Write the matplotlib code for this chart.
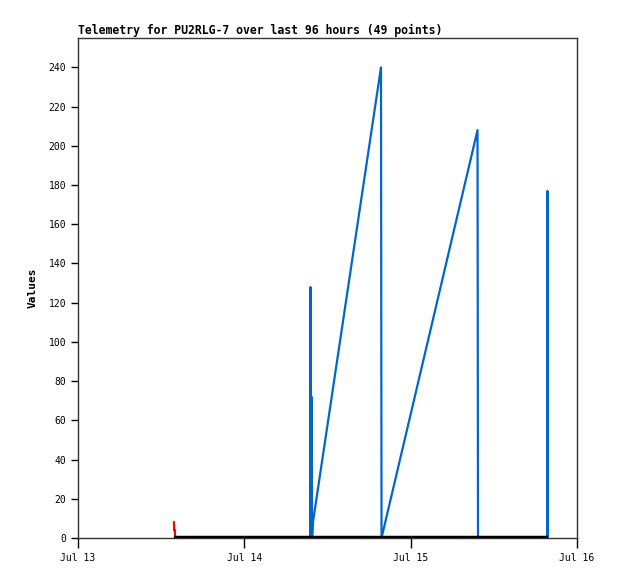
import datetime as dt
import matplotlib
matplotlib.use("Agg")
from matplotlib import pyplot as plt
import matplotlib.dates as mdates

# telemetry channels, times are hours after Jul 13 00:00
start = dt.datetime(2024, 7, 13)

blue_hours = [33.50, 33.55, 33.62, 33.70, 33.78, 33.90, 43.72, 43.80, 57.65, 57.72, 67.70, 67.74, 67.80]
blue_values = [0, 128, 0, 72, 0, 8, 240, 0, 208, 0, 0, 177, 0]

red_hours = [13.85, 13.87, 13.99, 14.00]
red_values = [8, 4, 4, 0]

black_hours = [13.85, 67.80]
black_values = [0, 0]

title = "Telemetry for PU2RLG-7 over last 96 hours (49 points)"


def to_dates(hours):
    return [start + dt.timedelta(hours=h) for h in hours]


plt.rcParams['font.family'] = ['DejaVu Sans Mono']

fig = plt.figure(figsize=(6.18, 5.79), dpi=100)
ax = fig.add_axes([0.1262, 0.0708, 0.8074, 0.8636])

ax.plot(to_dates(blue_hours), blue_values, color='#0066cc', lw=1.6, zorder=2)
ax.plot(to_dates(red_hours), red_values, color='#ff0000', lw=1.6, zorder=3)
ax.plot(to_dates(black_hours), black_values, color='black', lw=3.2, zorder=4,
        solid_capstyle='butt')

ax.set_xlim(start, start + dt.timedelta(days=3))
ax.set_ylim(0, 255)
ax.set_yticks(range(0, 241, 20))
ax.xaxis.set_major_locator(mdates.DayLocator())
ax.xaxis.set_major_formatter(mdates.DateFormatter('%b %d'))

ax.tick_params(axis='both', labelsize=7, length=5, width=1, color='black')
ax.tick_params(axis='x', length=7, pad=4)
for s in ax.spines.values():
    s.set_color('#333333')
    s.set_linewidth(1)

ax.set_ylabel('Values', fontsize=8, fontweight='bold', labelpad=8)
ax.set_title(title, loc='left', fontsize=8.3, fontweight='bold', pad=3)

fig.savefig('out.png', dpi=100)
